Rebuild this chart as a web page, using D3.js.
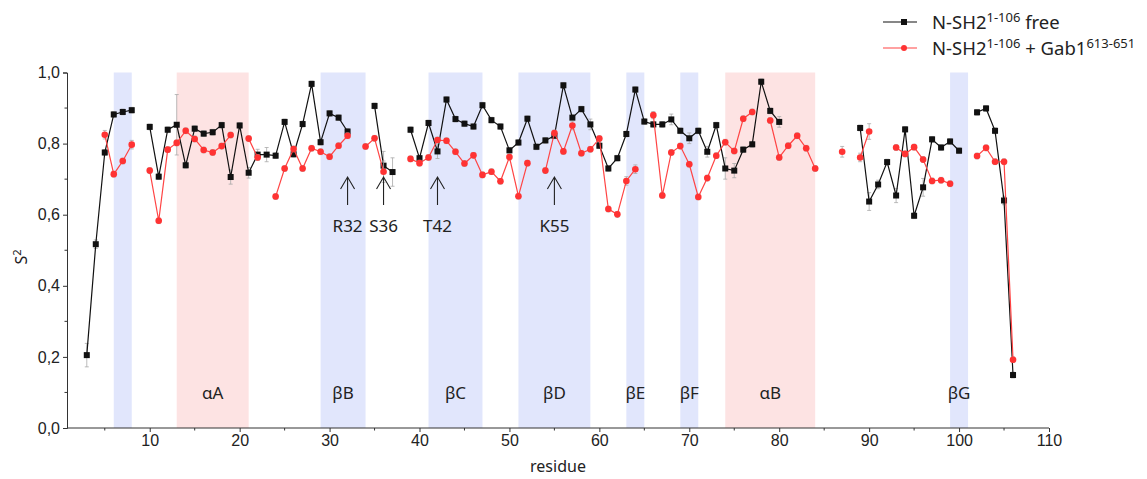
<!DOCTYPE html>
<html>
<head>
<meta charset="utf-8">
<script src="https://cdn.jsdelivr.net/npm/d3@7"></script>
<style>
    body { margin: 0; background: #fff; }
    svg { display: block; }
    text { font-family: "Noto Sans", "Open Sans", sans-serif; }
    .axis text { font-family: "Liberation Sans", Arial, sans-serif; font-size: 16px; fill: #222; }
    .axis path, .axis line { stroke: #333; }
</style>
</head>
<body>
<svg id="chart" width="1147" height="479"></svg>
<script>
// Residue numbering of both series
const firstResidue = 3;

// S2 of N-SH2 1-106 free, residues 3..106 (null = not determined)
const freeS2 = [
    0.205, 0.517, 0.775, 0.882, 0.889, 0.894, null, 0.847, 0.707, 0.839,
    0.853, 0.739, 0.842, 0.828, 0.832, 0.852, 0.706, 0.851, 0.718, 0.769,
    0.769, 0.766, 0.861, 0.770, 0.855, 0.968, 0.804, 0.885, 0.873, 0.834,
    null, null, 0.906, 0.738, 0.720, null, 0.839, 0.759, 0.858, 0.778,
    0.924, 0.869, 0.856, 0.848, 0.908, 0.866, 0.848, 0.781, 0.803, 0.870,
    0.791, 0.809, 0.822, 0.964, 0.873, 0.897, 0.854, 0.794, 0.730, 0.759,
    0.827, 0.952, 0.862, 0.854, 0.854, 0.868, 0.836, 0.815, 0.836, 0.777,
    0.852, 0.730, 0.724, 0.783, 0.798, 0.974, 0.892, 0.861, null, null,
    null, null, null, null, null, null, 0.844, 0.637, 0.685, 0.748,
    0.654, 0.840, 0.597, 0.677, 0.812, 0.789, 0.806, 0.780, null, 0.888,
    0.899, 0.836, 0.640, 0.149
];

// S2 of N-SH2 1-106 + Gab1 613-651, residues 3..106
const gabS2 = [
    null, null, 0.825, 0.714, 0.751, 0.797, null, 0.724, 0.583, 0.783,
    0.802, 0.836, 0.813, 0.782, 0.775, 0.793, 0.824, null, 0.814, 0.761,
    null, 0.651, 0.730, 0.785, 0.730, 0.787, 0.777, 0.763, 0.794, 0.822,
    null, 0.792, 0.815, 0.721, null, null, 0.757, 0.745, 0.761, 0.810,
    0.808, 0.777, 0.744, 0.767, 0.712, 0.721, 0.694, 0.762, 0.652, 0.745,
    null, 0.724, 0.830, 0.778, 0.851, 0.773, 0.784, 0.814, 0.616, 0.601,
    0.695, 0.728, null, 0.880, 0.654, 0.775, 0.793, 0.742, 0.650, 0.703,
    0.766, 0.804, 0.779, 0.870, 0.889, null, 0.865, 0.761, 0.794, 0.822,
    0.787, 0.730, null, null, 0.777, null, 0.761, 0.834, null, null,
    0.789, 0.771, 0.790, 0.755, 0.695, 0.697, 0.687, null, null, 0.765,
    0.788, 0.749, 0.749, 0.192
];

// Error estimates that stand out; every other point uses defaultErr
const defaultErr = 0.008;
const freeErr = [[3, 0.033], [4, 0.012], [13, 0.085], [19, 0.02], [21, 0.015], [22, 0.015],
    [23, 0.02], [36, 0.04], [37, 0.04], [42, 0.02], [59, 0.015], [68, 0.015], [70, 0.015],
    [72, 0.015], [74, 0.03], [75, 0.02], [80, 0.015], [90, 0.025], [91, 0.012], [93, 0.02],
    [96, 0.025], [105, 0.012]];
const gabErr = [[5, 0.012], [8, 0.012], [36, 0.03], [57, 0.012], [63, 0.012], [64, 0.012],
    [66, 0.01], [87, 0.015], [89, 0.012], [90, 0.022]];

// Secondary structure elements
const structLabels = ['', 'αA', 'βB', 'βC', 'βD', 'βE', 'βF', 'αB', 'βG'];
const structStart = [6, 13, 29, 41, 51, 63, 69, 74, 99];
const structEnd = [8, 21, 34, 47, 59, 65, 71, 84, 101];
const structKind = ['b', 'a', 'b', 'b', 'b', 'b', 'b', 'a', 'b'];

// Annotated residues
const markLabels = ['R32', 'S36', 'T42', 'K55'];
const markResidues = [32, 36, 42, 55];

// Axis ticks
const yTicks = [0, 0.2, 0.4, 0.6, 0.8, 1.0];
const yMinorTicks = [0.1, 0.3, 0.5, 0.7, 0.9];
const xTicks = [10, 20, 30, 40, 50, 60, 70, 80, 90, 100, 110];
const xMinorTicks = [5, 15, 25, 35, 45, 55, 65, 75, 85, 95, 105];

/**
 * Visual configs.
 */
const svg = d3.select('#chart');
const plotLeft = 67, plotRight = 1049, plotTop = 72.5, plotBottom = 428;

const x = d3.scaleLinear().domain([0.8, 110]).range([plotLeft, plotRight]);
const y = d3.scaleLinear().domain([0, 1]).range([plotBottom, plotTop]);

const bandColor = { a: '#fde3e3', b: '#e1e6fc' };
const freeColor = '#111', gabColor = '#f44';

/**
 * Build the point records.
 */
function toPoints(values, errs) {
    const errMap = new Map(errs);
    return values.map((v, i) => {
        const r = firstResidue + i;
        return { r: r, v: v, e: errMap.has(r) ? errMap.get(r) : defaultErr };
    });
}
const freePts = toPoints(freeS2, freeErr);
const gabPts = toPoints(gabS2, gabErr);

/**
 * Background bands.
 */
const bands = structLabels.map((l, i) => ({ label: l, from: structStart[i], to: structEnd[i], kind: structKind[i] }));

svg.append('g').attr('class', 'bands')
    .selectAll('rect').data(bands).enter().append('rect')
    .attr('x', d => x(d.from))
    .attr('width', d => x(d.to) - x(d.from))
    .attr('y', y(1))
    .attr('height', y(0) - y(1))
    .attr('fill', d => bandColor[d.kind]);

svg.append('g').attr('class', 'band-labels')
    .selectAll('text').data(bands.filter(d => d.label)).enter().append('text')
    .attr('x', d => x((d.from + d.to) / 2))
    .attr('y', 399)
    .attr('text-anchor', 'middle')
    .attr('font-size', 17)
    .attr('fill', '#222')
    .text(d => d.label);

/**
 * Axes.
 */
const yAxis = svg.append('g').attr('class', 'axis')
    .attr('transform', 'translate(' + plotLeft + ',0)')
    .call(d3.axisLeft(y).tickValues(yTicks).tickSize(4).tickPadding(3).tickFormat(d => d3.format('.1f')(d).replace('.', ',')));
yAxis.append('g').selectAll('line').data(yMinorTicks).enter().append('line')
    .attr('x1', -2.5).attr('x2', 0).attr('y1', d => y(d)).attr('y2', d => y(d));

const xAxis = svg.append('g').attr('class', 'axis')
    .attr('transform', 'translate(0,' + plotBottom + ')')
    .call(d3.axisBottom(x).tickValues(xTicks).tickSize(4).tickPadding(3).tickFormat(d3.format('d')));
xAxis.select('.domain').attr('d', 'M' + plotLeft + ',0H' + plotRight);
xAxis.append('g').selectAll('line').data(xMinorTicks).enter().append('line')
    .attr('y1', 0).attr('y2', 2.5).attr('x1', d => x(d)).attr('x2', d => x(d));

svg.append('text')
    .attr('x', (plotLeft + plotRight) / 2).attr('y', 472)
    .attr('text-anchor', 'middle')
    .attr('font-family', 'Liberation Sans, Arial, sans-serif')
    .attr('font-size', 16).attr('fill', '#222')
    .text('residue');

const yLabel = svg.append('text')
    .attr('transform', 'translate(27,257) rotate(-90)')
    .attr('text-anchor', 'middle')
    .attr('font-family', 'Liberation Sans, Arial, sans-serif')
    .attr('font-size', 16).attr('fill', '#222');
yLabel.append('tspan').text('S');
yLabel.append('tspan').attr('dy', -6).attr('font-size', 11).text('2');

/**
 * Series.
 */
function drawSeries(pts, color, lineColor, shape) {
    const g = svg.append('g').attr('class', 'series');
    const valid = pts.filter(d => d.v !== null);

    g.append('g').selectAll('path').data(valid).enter().append('path')
        .attr('d', d => {
            const x0 = x(d.r), y0 = y(d.v - d.e), y1 = y(d.v + d.e);
            return 'M' + x0 + ',' + y0 + 'V' + y1 +
                'M' + (x0 - 2) + ',' + y0 + 'h4M' + (x0 - 2) + ',' + y1 + 'h4';
        })
        .attr('stroke', '#aaa').attr('stroke-width', 0.8).attr('fill', 'none');

    g.append('path').datum(pts)
        .attr('d', d3.line().defined(d => d.v !== null).x(d => x(d.r)).y(d => y(d.v)))
        .attr('fill', 'none').attr('stroke', lineColor).attr('stroke-width', 1.2);

    if (shape === 'square') {
        g.append('g').selectAll('rect').data(valid).enter().append('rect')
            .attr('x', d => x(d.r) - 3).attr('y', d => y(d.v) - 3)
            .attr('width', 6).attr('height', 6).attr('fill', color);
    } else {
        g.append('g').selectAll('circle').data(valid).enter().append('circle')
            .attr('cx', d => x(d.r)).attr('cy', d => y(d.v))
            .attr('r', 3.3).attr('fill', color);
    }
}

drawSeries(freePts, freeColor, '#111', 'square');
drawSeries(gabPts, '#f33', gabColor, 'circle');

/**
 * Arrows for annotated residues.
 */
const marks = markLabels.map((l, i) => ({ label: l, r: markResidues[i] }));
const markG = svg.append('g').attr('class', 'marks')
    .selectAll('g').data(marks).enter().append('g')
    .attr('transform', d => 'translate(' + x(d.r) + ',0)');
markG.append('path')
    .attr('d', 'M0,205V177M-7,189L0,177L7,189')
    .attr('fill', 'none').attr('stroke', '#222').attr('stroke-width', 1.1);
markG.append('text')
    .attr('y', 232).attr('text-anchor', 'middle')
    .attr('font-size', 17).attr('fill', '#222')
    .text(d => d.label);

/**
 * Legend.
 */
const legend = svg.append('g').attr('class', 'legend');
const legendRows = [
    { color: '#111', shape: 'square', y: 22, parts: [['N-SH2', 0], ['1-106', 1], [' free', 0]] },
    { color: gabColor, shape: 'circle', y: 48, parts: [['N-SH2', 0], ['1-106', 1], [' + Gab1', 0], ['613-651', 1]] }
];
legendRows.forEach(row => {
    legend.append('line').attr('x1', 883).attr('x2', 917).attr('y1', row.y).attr('y2', row.y)
        .attr('stroke', row.color).attr('stroke-width', 1.2);
    if (row.shape === 'square') {
        legend.append('rect').attr('x', 901).attr('y', row.y - 3).attr('width', 6).attr('height', 6).attr('fill', row.color);
    } else {
        legend.append('circle').attr('cx', 904).attr('cy', row.y).attr('r', 3).attr('fill', '#f33');
    }
    const t = legend.append('text').attr('x', 932).attr('y', row.y + 6.5).attr('font-size', 18.5).attr('fill', '#222');
    let prevSup = 0;
    row.parts.forEach(p => {
        const sp = t.append('tspan').text(p[0]);
        if (p[1] && !prevSup) sp.attr('dy', -7).attr('font-size', 13);
        if (!p[1] && prevSup) sp.attr('dy', 7);
        prevSup = p[1];
    });
});
</script>
</body>
</html>
